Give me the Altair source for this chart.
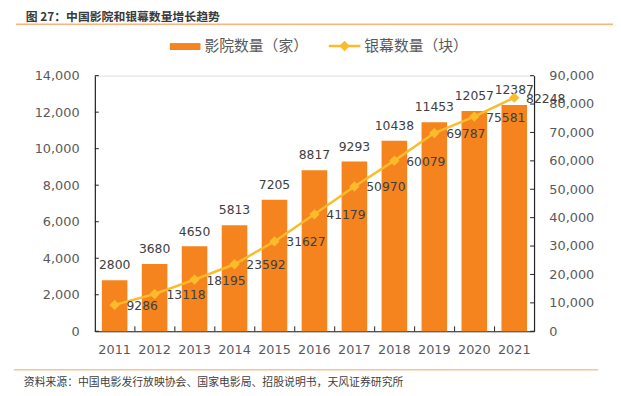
import altair as alt
import pandas as pd

years = ["2011", "2012", "2013", "2014", "2015", "2016", "2017", "2018", "2019", "2020", "2021"]
cinemas = [2800, 3680, 4650, 5813, 7205, 8817, 9293, 10438, 11453, 12057, 12387]
screens = [9286, 13118, 18195, 23592, 31627, 41179, 50970, 60079, 69787, 75581, 82248]
left_ticks = [0, 2000, 4000, 6000, 8000, 10000, 12000, 14000]
right_ticks = [0, 10000, 20000, 30000, 40000, 50000, 60000, 70000, 80000, 90000]

title_text = "图 27：中国影院和银幕数量增长趋势"
source_text = "资料来源：中国电影发行放映协会、国家电影局、招股说明书，天风证券研究所"
legend_bar = "影院数量（家）"
legend_line = "银幕数量（块）"

BAR = "#F5841F"
LINE = "#FBBB2B"
TXT = "#404040"
AX = "#595959"
CJK = "Noto Sans CJK SC"
NUM = "DejaVu Sans"
W, H = 445, 259

df = pd.DataFrame({"year": years, "cinemas": cinemas, "screens": screens})

xscale = alt.Scale(paddingInner=0.36, paddingOuter=0.175)
xaxis = alt.Axis(labelAngle=0, labelFont=NUM, labelFontSize=13, labelColor=AX,
                 labelPadding=13, ticks=False, domainColor="#222", domainWidth=1.2)
xenc = alt.X("year:O", title=None, scale=xscale, axis=xaxis)
xenc0 = alt.X("year:O", title=None, scale=xscale, axis=xaxis, bandPosition=0)

LBL = "format(datum.value, ',.0f')"
laxis = alt.Axis(values=left_ticks, labelExpr=LBL, labelFont=NUM, labelFontSize=13,
                 labelColor=AX, labelPadding=16, ticks=False, grid=False,
                 domainColor="#222", domainWidth=1.2)
raxis = alt.Axis(orient="right", values=right_ticks, labelExpr=LBL, labelFont=NUM,
                 labelFontSize=13, labelColor=AX, labelPadding=15, ticks=False,
                 grid=False, domainColor="#222", domainWidth=1.2)
yl = alt.Y("cinemas:Q", title=None, scale=alt.Scale(domain=[0, 14000], nice=False), axis=laxis)
yr = alt.Y("screens:Q", title=None, scale=alt.Scale(domain=[0, 90000], nice=False), axis=raxis)

base = alt.Chart(df)
bars = base.mark_bar(color=BAR).encode(x=xenc, y=yl)
bar_labels = base.mark_text(font=NUM, fontSize=12.5, color=TXT, dy=-15, baseline="middle").encode(
    x=xenc, y=yl, text=alt.Text("cinemas:Q", format="d"))
lt = alt.Chart(pd.DataFrame({"cinemas": left_ticks})).mark_rule(color="#222").encode(
    y=yl, x=alt.value(0), x2=alt.value(4))
xt = alt.Chart(pd.DataFrame({"year": years[1:]})).mark_rule(color="#222", xOffset=-7).encode(
    x=xenc0, y=alt.value(H), y2=alt.value(H - 5))
left = alt.layer(bars, bar_labels, lt, xt)

line = base.mark_line(color=LINE, strokeWidth=2.5).encode(x=xenc, y=yr)
pts = base.mark_point(shape="diamond", filled=True, color=LINE, size=110, opacity=1).encode(x=xenc, y=yr)
line_labels = base.mark_text(font=NUM, fontSize=12.5, color=TXT, align="left", dx=12, dy=1,
                             baseline="middle").encode(
    x=xenc, y=yr, text=alt.Text("screens:Q", format="d"))
rt = alt.Chart(pd.DataFrame({"screens": right_ticks})).mark_rule(color="#222").encode(
    y=yr, x=alt.value(W), x2=alt.value(W - 4))
right = alt.layer(line, pts, line_labels, rt)

one = alt.Chart(pd.DataFrame({"a": [0]}))
title = one.mark_text(text=title_text, font=CJK, fontSize=12, fontWeight="bold", color="#3a3a3a",
                      align="left", baseline="middle").encode(x=alt.value(-70), y=alt.value(-59))
top_line = one.mark_rule(color="#F8B47A", strokeWidth=1.5).encode(
    x=alt.value(-80), x2=alt.value(525), y=alt.value(-52))
bot_line = one.mark_rule(color="#FAC396", strokeWidth=1.5).encode(
    x=alt.value(-82), x2=alt.value(510), y=alt.value(298))
source = one.mark_text(text=source_text, font=CJK, fontSize=11, color=TXT, align="left",
                       baseline="middle").encode(x=alt.value(-72), y=alt.value(311))
leg_rect = one.mark_rect(color=BAR).encode(x=alt.value(76), x2=alt.value(107),
                                           y=alt.value(-33), y2=alt.value(-26))
leg_t1 = one.mark_text(text=legend_bar, font=CJK, fontSize=15, color=AX, align="left",
                       baseline="middle").encode(x=alt.value(111), y=alt.value(-30))
leg_line = one.mark_rule(color=LINE, strokeWidth=2.5).encode(x=alt.value(237), x2=alt.value(269),
                                                             y=alt.value(-30))
leg_pt = one.mark_point(shape="diamond", filled=True, color=LINE, size=110, opacity=1).encode(
    x=alt.value(253), y=alt.value(-30))
leg_t2 = one.mark_text(text=legend_line, font=CJK, fontSize=15, color=AX, align="left",
                       baseline="middle").encode(x=alt.value(273), y=alt.value(-30))
deco = alt.layer(title, top_line, bot_line, source, leg_rect, leg_t1, leg_line, leg_pt, leg_t2)

chart = alt.layer(left, right, deco).resolve_scale(y="independent").properties(
    width=W, height=H,
    autosize=alt.AutoSizeParams(type="none"),
    padding={"left": 88, "top": 66, "right": 80, "bottom": 59},
).configure_view(stroke=None).configure(background="white")

chart.save("out.html", embed_options={"renderer": "svg", "actions": False})
